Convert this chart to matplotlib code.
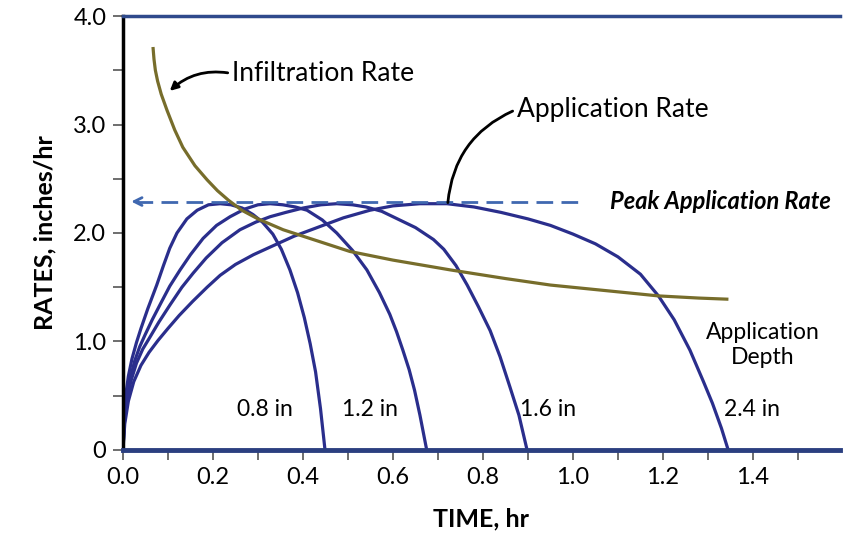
import numpy as np
import matplotlib.pyplot as plt
from matplotlib.ticker import FixedLocator

plt.rcParams['font.family'] = ['Lato', 'DejaVu Sans']

# application rate curves (time hr, rate in/hr), one per application depth
depths = ['0.8 in', '1.2 in', '1.6 in', '2.4 in']
t_08 = [0, 0.002, 0.006, 0.012, 0.02, 0.03, 0.04, 0.055, 0.075, 0.09, 0.104, 0.12, 0.142, 0.165, 0.19, 0.216,
        0.24, 0.265, 0.289, 0.31, 0.333, 0.352, 0.371, 0.388, 0.403, 0.416, 0.428, 0.439, 0.449]
r_08 = [0, 0.28, 0.5, 0.68, 0.84, 0.99, 1.12, 1.3, 1.52, 1.7, 1.86, 2.0, 2.13, 2.21, 2.26, 2.27,
        2.26, 2.23, 2.17, 2.1, 1.99, 1.85, 1.66, 1.45, 1.22, 0.98, 0.72, 0.38, 0]
t_12 = [0, 0.003, 0.008, 0.016, 0.026, 0.037, 0.049, 0.065, 0.085, 0.104, 0.127, 0.15, 0.178, 0.208, 0.238,
        0.27, 0.3, 0.327, 0.355, 0.383, 0.409, 0.443, 0.475, 0.51, 0.542, 0.57, 0.593, 0.608, 0.622, 0.636,
        0.648, 0.66, 0.675]
r_12 = [0, 0.27, 0.48, 0.66, 0.82, 0.95, 1.06, 1.2, 1.36, 1.51, 1.66, 1.8, 1.95, 2.07, 2.15,
        2.22, 2.26, 2.27, 2.26, 2.24, 2.21, 2.12, 2.0, 1.84, 1.66, 1.45, 1.25, 1.09, 0.92, 0.74,
        0.55, 0.32, 0]
t_16 = [0, 0.003, 0.009, 0.018, 0.03, 0.044, 0.06, 0.08, 0.105, 0.131, 0.156, 0.185, 0.22, 0.26, 0.295,
        0.327, 0.362, 0.4, 0.44, 0.475, 0.51, 0.54, 0.575, 0.61, 0.65, 0.69, 0.713, 0.74, 0.765, 0.79,
        0.816, 0.838, 0.86, 0.88, 0.898]
r_16 = [0, 0.25, 0.46, 0.64, 0.8, 0.93, 1.04, 1.18, 1.34, 1.5, 1.63, 1.77, 1.91, 2.03, 2.1,
        2.15, 2.19, 2.23, 2.26, 2.27, 2.26, 2.24, 2.2, 2.13, 2.05, 1.94, 1.85, 1.7, 1.52, 1.32,
        1.1, 0.86, 0.58, 0.32, 0]
t_24 = [0, 0.004, 0.012, 0.024, 0.04, 0.058, 0.078, 0.1, 0.125, 0.155, 0.187, 0.216, 0.25, 0.29, 0.327,
        0.38, 0.438, 0.49, 0.549, 0.6, 0.66, 0.72, 0.78, 0.84, 0.9, 0.95, 1.0, 1.05, 1.1, 1.15,
        1.19, 1.225, 1.26, 1.29, 1.31, 1.33, 1.345]
r_24 = [0, 0.24, 0.45, 0.63, 0.78, 0.9, 1.01, 1.12, 1.24, 1.37, 1.5, 1.61, 1.71, 1.8, 1.87,
        1.97, 2.06, 2.14, 2.21, 2.25, 2.27, 2.27, 2.24, 2.19, 2.13, 2.07, 1.99, 1.9, 1.78, 1.62,
        1.42, 1.2, 0.92, 0.63, 0.43, 0.2, 0]

# infiltration rate curve
t_inf = [0.067, 0.069, 0.072, 0.077, 0.085, 0.098, 0.115, 0.133, 0.16, 0.187, 0.21, 0.235, 0.264, 0.3,
         0.356, 0.43, 0.504, 0.6, 0.727, 0.85, 0.95, 1.07, 1.19, 1.28, 1.342]
r_inf = [3.70, 3.6, 3.5, 3.4, 3.28, 3.13, 2.95, 2.79, 2.62, 2.49, 2.39, 2.3, 2.21, 2.13,
         2.03, 1.93, 1.83, 1.75, 1.66, 1.58, 1.52, 1.47, 1.42, 1.40, 1.39]

peak_rate = 2.29
depth_label_t = [0.316, 0.549, 0.944, 1.398]

navy = '#2a2e8c'
olive = '#776d2b'

fig = plt.figure(figsize=(8.44, 5.35), dpi=100)
ax = fig.add_axes([0.1457, 0.159, 0.8493, 0.811])

for tt, rr in [(t_08, r_08), (t_12, r_12), (t_16, r_16), (t_24, r_24)]:
    ax.plot(tt, rr, color=navy, lw=2.3, solid_capstyle='round', solid_joinstyle='round')
ax.plot(t_inf, r_inf, color=olive, lw=2.3, solid_joinstyle='round')

# peak application rate line with arrow
ax.plot([0.03, 1.02], [peak_rate, peak_rate], color='#4068b0', lw=2, dashes=(6, 3))
ax.annotate('', xy=(0.012, peak_rate), xytext=(0.04, peak_rate),
            arrowprops=dict(arrowstyle='->', color='#4068b0', lw=2, mutation_scale=14))
ax.text(1.082, peak_rate, 'Peak Application Rate', fontsize=17, fontweight='bold',
        fontstyle='italic', va='center', ha='left')

ax.annotate('Infiltration Rate', xy=(0.104, 3.31), xytext=(0.242, 3.47),
            fontsize=19, va='center', ha='left',
            arrowprops=dict(arrowstyle='-|>', color='black', lw=2, mutation_scale=12, relpos=(0, 0.5),
                            shrinkA=1, shrinkB=0, connectionstyle='arc3,rad=0.25'))
ax.annotate('Application Rate', xy=(0.722, 2.28), xytext=(0.875, 3.14),
            fontsize=19, va='center', ha='left',
            arrowprops=dict(arrowstyle='-', color='black', lw=2, relpos=(0, 0.5),
                            shrinkA=1, shrinkB=0, connectionstyle='arc3,rad=0.3'))

for lab, tx in zip(depths, depth_label_t):
    ax.text(tx, 0.37, lab, fontsize=16.5, ha='center', va='center')
ax.text(1.422, 0.97, 'Application\nDepth', fontsize=16.5, ha='center', va='center',
        linespacing=1.25)

ax.set_xlim(0, 1.593)
ax.set_ylim(0, 4.0)

xt = np.arange(0, 1.55, 0.1)
ax.xaxis.set_major_locator(FixedLocator(xt))
ax.set_xticklabels(['%.1f' % v if i % 2 == 0 else '' for i, v in enumerate(xt)])
ax.yaxis.set_major_locator(FixedLocator(np.arange(0, 4.01, 0.5)))
ax.set_yticklabels(['0', '', '1.0', '', '2.0', '', '3.0', '', '4.0'])
ax.tick_params(axis='both', labelsize=17, length=7, width=1.2, color='#555555', pad=5)

ax.spines['right'].set_visible(False)
ax.spines['left'].set_color('black')
ax.spines['left'].set_linewidth(2.5)
ax.spines['top'].set_color('#2f4a8c')
ax.spines['top'].set_linewidth(2.5)
ax.spines['bottom'].set_color('#2b3f80')
ax.spines['bottom'].set_linewidth(3.5)

ax.set_xlabel('TIME, hr', fontsize=18, fontweight='bold', labelpad=14)
ax.set_ylabel('RATES, inches/hr', fontsize=18, fontweight='bold', labelpad=12)

fig.savefig('out.png', dpi=100)
